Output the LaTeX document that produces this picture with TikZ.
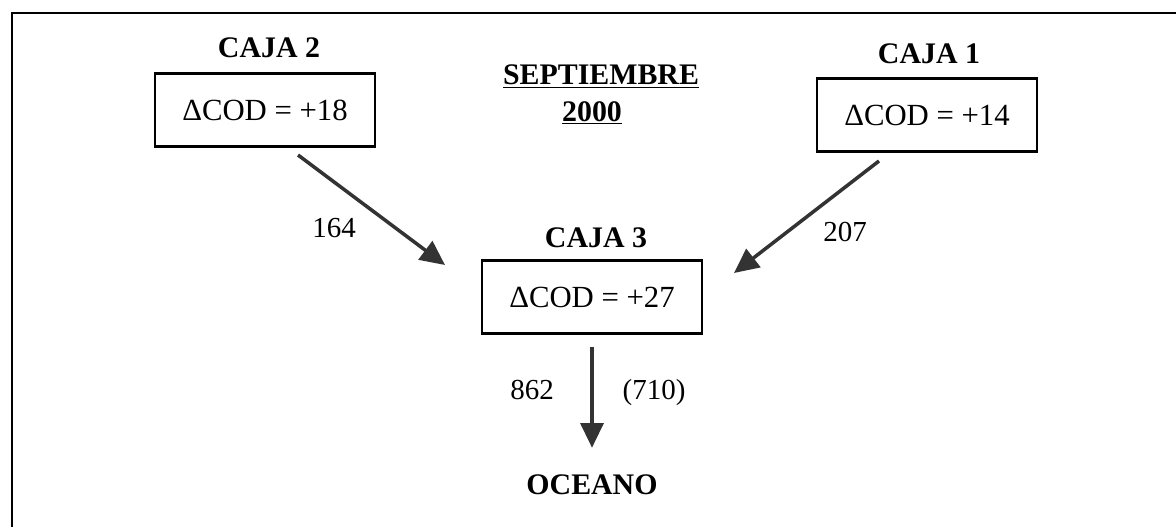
\documentclass[tikz,border=0pt]{standalone}
\usepackage{fontspec}
\setmainfont{Liberation Serif}
\usetikzlibrary{arrows.meta, positioning}

\begin{document}
\begin{tikzpicture}[
    x=0.02cm, y=-0.02cm,
    caja/.style={draw, line width=1.5pt, minimum width=4.4cm, minimum height=1.46cm, font=\fontsize{17.5}{20}\selectfont},
    title/.style={font=\fontsize{17}{20}\selectfont\bfseries},
    value/.style={font=\fontsize{16.5}{19}\selectfont},
    flow/.style={-{Triangle[length=14pt, width=13pt]}, line width=2pt, draw=black!80},
    frame/.style={line width=1.5pt}
]
\useasboundingbox (0,0) rectangle (1176,527);

% Frame (cut at right and bottom)
\draw[frame] (12,527) |- (1176,13);

% Boxes
\node[caja] (box2) at (265,110) {ΔCOD = +18};
\node[caja] (box1) at (927,115) {ΔCOD = +14};
\node[caja] (box3) at (592,297) {ΔCOD = +27};

% Titles
\node[title] (t2) at (269,48) {CAJA 2};
\node[title] (t1) at (929,54) {CAJA 1};
\node[title] (t3) at (596,238) {CAJA 3};
\node[title] (month) at (601,77) {\underline{SEPTIEMBRE}};
\node[title] (year) at (592,113) {\underline{2000}};
\node[title] (ocean) at (592,485) {OCEANO};

% Arrow ends
\coordinate (a2s) at (298,155);
\coordinate (a2e) at (445,265);
\coordinate (a1s) at (879,161);
\coordinate (a1e) at (734,273);

% Flows
\draw[flow] (a2s) -- (a2e);
\draw[flow] (a1s) -- (a1e);
\draw[flow, shorten <=0.24cm, shorten >=0.42cm] (box3) -- (ocean);

% Flow values
\node[value] (v2) at (334,228) {164};
\node[value] (v1) at (845,232) {207};
\node[value] (v3) at (532,390) {862};
\node[value] (v3b) at (654,393) {(710)};

\end{tikzpicture}
\end{document}
